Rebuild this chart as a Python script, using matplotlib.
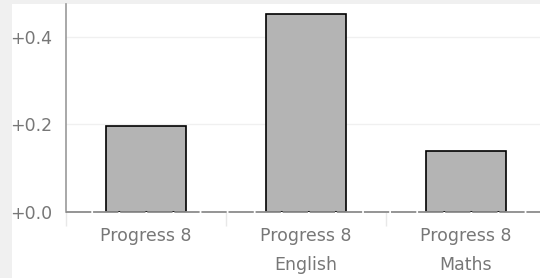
import matplotlib.pyplot as plt
from matplotlib.patches import Rectangle

# data
categories = ['Progress 8', 'Progress 8\nEnglish', 'Progress 8\nMaths']
values = [0.197, 0.453, 0.139]
yticks = [0.0, 0.2, 0.4]
ytick_labels = ['+0.0', '+0.2', '+0.4']

plt.rcParams['font.family'] = ['DejaVu Sans']

fig = plt.figure(figsize=(5.4, 2.78), dpi=100, facecolor='#f0f0f0')
# white panel
fig.patches.append(Rectangle((12 / 540, 0), 1, 1 - 4 / 278, transform=fig.transFigure,
                             facecolor='white', edgecolor='none', zorder=-10))

ax = fig.add_axes([66 / 540, 66 / 278, 474 / 540, 208 / 278])
ax.set_facecolor('white')

x = range(len(categories))
ax.bar(x, values, width=0.5, color='#b4b4b4', edgecolor='black', linewidth=1.2, zorder=3)

ax.set_xlim(-0.5, 2.4625)
ax.set_ylim(0, 0.475)

ax.set_yticks(yticks)
ax.set_yticklabels(ytick_labels)
ax.set_xticks(list(x))
ax.set_xticklabels(categories, linespacing=1.8)
ax.set_xticks([-0.5, 0.5, 1.5], minor=True)

ax.tick_params(axis='y', length=0, pad=10, labelsize=12.5, labelcolor='#777777')
ax.tick_params(axis='x', which='major', length=0, pad=11, labelsize=12.5, labelcolor='#777777')
ax.tick_params(axis='x', which='minor', length=10, color='#e8e8e8', width=1)

# 网格
ax.grid(axis='y', color='#f0f0f0', linewidth=1, zorder=0)

for s in ['top', 'right', 'bottom']:
    ax.spines[s].set_visible(False)
ax.spines['left'].set_color('#999999')
ax.spines['left'].set_linewidth(1.2)

# zero line
ax.axhline(0, color='#8c8c8c', linewidth=1.3, linestyle=(0, (14, 1)), zorder=4, clip_on=False)

fig.savefig('out.png', dpi=100, facecolor=fig.get_facecolor())
